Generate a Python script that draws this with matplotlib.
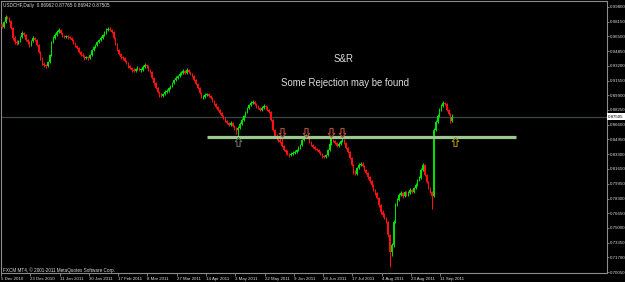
import numpy as np
import matplotlib

matplotlib.use("Agg")
import matplotlib.pyplot as plt
from matplotlib.path import Path
from matplotlib.transforms import blended_transform_factory

# USDCHF daily bars, 5 Dec 2010 .. 14 Sep 2011 (FXCM, Sunday bars included)
first_open = 0.9790
closes = [
    0.9756, 0.9812, 0.9868, 0.9857, 0.9823, 0.9745, 0.9633, 0.9588, 0.9576, 0.9599,
    0.9644, 0.9689, 0.9666, 0.9610, 0.9588, 0.9554, 0.9599, 0.9633, 0.9610, 0.9554,
    0.9475, 0.9408, 0.9341, 0.9330, 0.9318, 0.9363, 0.9442, 0.9588, 0.9633, 0.9666,
    0.9700, 0.9722, 0.9689, 0.9655, 0.9644, 0.9655, 0.9644, 0.9633, 0.9610, 0.9576,
    0.9543, 0.9520, 0.9475, 0.9442, 0.9431, 0.9408, 0.9419, 0.9408, 0.9442, 0.9498,
    0.9532, 0.9554, 0.9588, 0.9610, 0.9633, 0.9666, 0.9689, 0.9722, 0.9734, 0.9722,
    0.9700, 0.9633, 0.9565, 0.9498, 0.9453, 0.9419, 0.9408, 0.9374, 0.9352, 0.9318,
    0.9296, 0.9274, 0.9262, 0.9285, 0.9296, 0.9274, 0.9274, 0.9307, 0.9330, 0.9318,
    0.9274, 0.9251, 0.9184, 0.9127, 0.9072, 0.9027, 0.8993, 0.8982, 0.9004, 0.9027,
    0.9038, 0.9072, 0.9094, 0.9127, 0.9161, 0.9184, 0.9206, 0.9229, 0.9240, 0.9262,
    0.9240, 0.9274, 0.9251, 0.9229, 0.9206, 0.9161, 0.9117, 0.9072, 0.9015, 0.8970,
    0.8970, 0.8993, 0.9004, 0.8982, 0.8959, 0.8925, 0.8892, 0.8858, 0.8825, 0.8791,
    0.8758, 0.8735, 0.8701, 0.8678, 0.8656, 0.8678, 0.8645, 0.8623, 0.8600, 0.8623,
    0.8668, 0.8713, 0.8758, 0.8802, 0.8847, 0.8881, 0.8903, 0.8915, 0.8892, 0.8858,
    0.8847, 0.8825, 0.8847, 0.8870, 0.8858, 0.8825, 0.8802, 0.8713, 0.8600, 0.8533,
    0.8511, 0.8488, 0.8466, 0.8421, 0.8376, 0.8354, 0.8331, 0.8320, 0.8331, 0.8342,
    0.8354, 0.8376, 0.8398, 0.8432, 0.8488, 0.8522, 0.8544, 0.8511, 0.8466, 0.8432,
    0.8410, 0.8387, 0.8376, 0.8354, 0.8331, 0.8309, 0.8297, 0.8320, 0.8376, 0.8443,
    0.8488, 0.8477, 0.8455, 0.8421, 0.8443, 0.8477, 0.8488, 0.8455, 0.8398, 0.8354,
    0.8286, 0.8208, 0.8129, 0.8107, 0.8174, 0.8208, 0.8219, 0.8196, 0.8151, 0.8118,
    0.8073, 0.8028, 0.7983, 0.7927, 0.7894, 0.7837, 0.7759, 0.7680, 0.7647, 0.7613,
    0.7568, 0.7421, 0.7231, 0.7309, 0.7568, 0.7759, 0.7815, 0.7871, 0.7894, 0.7859,
    0.7905, 0.7871, 0.7894, 0.7927, 0.7905, 0.7950, 0.7983, 0.8039, 0.8062, 0.8151,
    0.8208, 0.8095, 0.8017, 0.7950, 0.7905, 0.7859, 0.8600, 0.8690, 0.8758, 0.8825,
    0.8870, 0.8903, 0.8892, 0.8825, 0.8780, 0.86962, 0.87505,
]
highs = [
    0.9800, 0.9825, 0.9885, 0.9880, 0.9870, 0.9835, 0.9760, 0.9650, 0.9605, 0.9615,
    0.9660, 0.9705, 0.9700, 0.9680, 0.9625, 0.9600, 0.9615, 0.9650, 0.9645, 0.9620,
    0.9565, 0.9490, 0.9420, 0.9360, 0.9345, 0.9375, 0.9455, 0.9600, 0.9650, 0.9685,
    0.9720, 0.9745, 0.9735, 0.9700, 0.9670, 0.9670, 0.9665, 0.9660, 0.9645, 0.9620,
    0.9590, 0.9555, 0.9530, 0.9485, 0.9460, 0.9445, 0.9435, 0.9430, 0.9455, 0.9510,
    0.9545, 0.9570, 0.9600, 0.9625, 0.9650, 0.9680, 0.9705, 0.9740, 0.9755, 0.9750,
    0.9735, 0.9710, 0.9645, 0.9580, 0.9510, 0.9465, 0.9435, 0.9420, 0.9390, 0.9365,
    0.9330, 0.9310, 0.9290, 0.9300, 0.9320, 0.9310, 0.9290, 0.9325, 0.9350, 0.9345,
    0.9330, 0.9285, 0.9260, 0.9195, 0.9140, 0.9085, 0.9040, 0.9010, 0.9020, 0.9045,
    0.9055, 0.9085, 0.9110, 0.9140, 0.9175, 0.9200, 0.9220, 0.9245, 0.9260, 0.9280,
    0.9275, 0.9290, 0.9285, 0.9265, 0.9240, 0.9215, 0.9170, 0.9130, 0.9085, 0.9025,
    0.8990, 0.9010, 0.9020, 0.9015, 0.8995, 0.8970, 0.8935, 0.8905, 0.8870, 0.8835,
    0.8800, 0.8770, 0.8745, 0.8715, 0.8690, 0.8695, 0.8690, 0.8655, 0.8635, 0.8640,
    0.8685, 0.8730, 0.8770, 0.8815, 0.8860, 0.8895, 0.8920, 0.8935, 0.8930, 0.8905,
    0.8875, 0.8860, 0.8865, 0.8890, 0.8885, 0.8870, 0.8840, 0.8815, 0.8725, 0.8615,
    0.8550, 0.8530, 0.8535, 0.8530, 0.8435, 0.8390, 0.8370, 0.8345, 0.8350, 0.8360,
    0.8370, 0.8390, 0.8415, 0.8445, 0.8500, 0.8540, 0.8560, 0.8555, 0.8525, 0.8480,
    0.8445, 0.8420, 0.8400, 0.8390, 0.8365, 0.8345, 0.8320, 0.8335, 0.8390, 0.8520,
    0.8505, 0.8500, 0.8490, 0.8470, 0.8460, 0.8490, 0.8530, 0.8500, 0.8465, 0.8410,
    0.8365, 0.8295, 0.8220, 0.8145, 0.8185, 0.8225, 0.8240, 0.8235, 0.8205, 0.8165,
    0.8130, 0.8085, 0.8040, 0.7995, 0.7940, 0.7905, 0.7850, 0.7770, 0.7700, 0.7665,
    0.7625, 0.7580, 0.7435, 0.7330, 0.7590, 0.7780, 0.7835, 0.7890, 0.7915, 0.7905,
    0.7920, 0.7920, 0.7910, 0.7945, 0.7940, 0.7965, 0.8000, 0.8055, 0.8080, 0.8170,
    0.8230, 0.8215, 0.8105, 0.8030, 0.7960, 0.7920, 0.8620, 0.8710, 0.8775, 0.8845,
    0.8890, 0.8925, 0.8915, 0.8905, 0.8840, 0.8790, 0.87765,
]
lows = [
    0.9740, 0.9745, 0.9800, 0.9840, 0.9810, 0.9730, 0.9610, 0.9570, 0.9555, 0.9560,
    0.9590, 0.9630, 0.9650, 0.9595, 0.9570, 0.9535, 0.9545, 0.9590, 0.9595, 0.9540,
    0.9460, 0.9390, 0.9325, 0.9310, 0.9300, 0.9305, 0.9350, 0.9430, 0.9575, 0.9620,
    0.9655, 0.9690, 0.9675, 0.9640, 0.9630, 0.9630, 0.9625, 0.9620, 0.9595, 0.9560,
    0.9530, 0.9505, 0.9460, 0.9425, 0.9415, 0.9390, 0.9395, 0.9385, 0.9400, 0.9430,
    0.9485, 0.9520, 0.9545, 0.9575, 0.9600, 0.9620, 0.9655, 0.9680, 0.9710, 0.9705,
    0.9685, 0.9620, 0.9550, 0.9485, 0.9440, 0.9400, 0.9390, 0.9360, 0.9335, 0.9300,
    0.9280, 0.9255, 0.9245, 0.9250, 0.9270, 0.9260, 0.9255, 0.9265, 0.9295, 0.9300,
    0.9260, 0.9235, 0.9170, 0.9110, 0.9055, 0.9010, 0.8975, 0.8965, 0.8970, 0.8995,
    0.9015, 0.9025, 0.9060, 0.9085, 0.9115, 0.9150, 0.9170, 0.9195, 0.9215, 0.9230,
    0.9225, 0.9230, 0.9235, 0.9215, 0.9190, 0.9145, 0.9100, 0.9055, 0.9000, 0.8955,
    0.8950, 0.8960, 0.8980, 0.8965, 0.8945, 0.8910, 0.8875, 0.8845, 0.8810, 0.8775,
    0.8745, 0.8720, 0.8685, 0.8665, 0.8640, 0.8645, 0.8630, 0.8605, 0.8560, 0.8520,
    0.8610, 0.8655, 0.8700, 0.8745, 0.8790, 0.8835, 0.8870, 0.8890, 0.8875, 0.8845,
    0.8830, 0.8810, 0.8815, 0.8835, 0.8840, 0.8810, 0.8785, 0.8700, 0.8585, 0.8515,
    0.8490, 0.8470, 0.8450, 0.8405, 0.8360, 0.8335, 0.8315, 0.8300, 0.8305, 0.8320,
    0.8330, 0.8340, 0.8365, 0.8385, 0.8420, 0.8475, 0.8505, 0.8495, 0.8450, 0.8415,
    0.8395, 0.8370, 0.8360, 0.8340, 0.8315, 0.8290, 0.8280, 0.8285, 0.8310, 0.8365,
    0.8430, 0.8460, 0.8440, 0.8405, 0.8410, 0.8430, 0.8465, 0.8440, 0.8385, 0.8340,
    0.8270, 0.8190, 0.8110, 0.8090, 0.8095, 0.8160, 0.8195, 0.8180, 0.8135, 0.8100,
    0.8055, 0.8010, 0.7965, 0.7910, 0.7875, 0.7820, 0.7740, 0.7660, 0.7625, 0.7595,
    0.7550, 0.7400, 0.7067, 0.7180, 0.7290, 0.7550, 0.7745, 0.7800, 0.7855, 0.7840,
    0.7845, 0.7855, 0.7860, 0.7880, 0.7890, 0.7895, 0.7940, 0.7970, 0.8025, 0.8050,
    0.8140, 0.8080, 0.8000, 0.7935, 0.7890, 0.7710, 0.7845, 0.8585, 0.8675, 0.8740,
    0.8810, 0.8855, 0.8875, 0.8810, 0.8765, 0.8680, 0.86942,
]

date_labels = [
    "5 Dec 2010", "23 Dec 2010", "11 Jan 2011", "30 Jan 2011", "17 Feb 2011",
    "8 Mar 2011", "27 Mar 2011", "14 Apr 2011", "3 May 2011", "22 May 2011",
    "9 Jun 2011", "28 Jun 2011", "17 Jul 2011", "4 Aug 2011", "23 Aug 2011",
    "11 Sep 2011",
]
bars_per_label = 16
price_ticks = [
    0.99800, 0.98150, 0.96500, 0.94850, 0.93200, 0.91550, 0.89900, 0.88250,
    0.86600, 0.84950, 0.83300, 0.81650, 0.79950, 0.78300, 0.76650, 0.75000,
    0.73350, 0.71700, 0.70050,
]
last_price = 0.87505
sr_level = 0.8516
sr_span = (112, 281)
rejection_bars = [153, 166, 180, 186]
support_bars = [129, 247.5]

BG = "#000000"
UP = "#00e000"
DOWN = "#ff1010"
FRAME = "#8c8c8c"
TEXT = "#dcdcdc"
FONT = "Liberation Sans"

W, H = 625, 282
fig = plt.figure(figsize=(W / 100, H / 100), dpi=100, facecolor=BG)
ax = fig.add_axes([1 / W, 9 / H, 606 / W, 272 / H], facecolor=BG)

c = np.array(closes)
o = np.r_[first_open, c[:-1]]
x = np.arange(len(c))
cols = np.where(c >= o, UP, DOWN)
ax.vlines(x, lows, highs, colors=cols, linewidth=0.72, zorder=3)
ax.bar(x, np.maximum(np.abs(c - o), 0.0006), bottom=np.minimum(o, c),
       width=0.75, color=cols, linewidth=0, zorder=3)

ax.set_xlim(-0.55, 330.6)
ax.set_ylim(0.69944, 1.00473)

# current price line + label box
ax.axhline(last_price, color="#3a4646", linewidth=0.9, zorder=2)
ax.text(1.0017, last_price, f"{last_price:.5f}", color="black", fontsize=3.2,
        family=FONT, va="center", ha="left",
        transform=blended_transform_factory(ax.transAxes, ax.transData),
        bbox=dict(boxstyle="square,pad=0.25", facecolor="white", edgecolor="none"),
        clip_on=False, zorder=6)

# support / resistance line
ax.hlines(sr_level, *sr_span, color="#9cc890", linewidth=2.3, zorder=4)

down_path = Path(
    [(-0.17, 1.0), (0.17, 1.0), (0.17, 0.45), (0.36, 0.45), (0.0, 0.02),
     (-0.36, 0.45), (-0.17, 0.45), (-0.17, 1.0)],
    [Path.MOVETO] + [Path.LINETO] * 6 + [Path.CLOSEPOLY],
)
up_path = Path(down_path.vertices * [1, -1], down_path.codes)
ax.plot(rejection_bars, [sr_level] * len(rejection_bars), linestyle="none",
        marker=down_path, markersize=13, markerfacecolor="none",
        markeredgecolor="#b44a3c", markeredgewidth=0.8, zorder=5)
for xb, col in zip(support_bars, ["#5f6e5f", "#a08a18"]):
    ax.plot([xb], [sr_level], linestyle="none", marker=up_path, markersize=13,
            markerfacecolor="none", markeredgecolor=col, markeredgewidth=0.8,
            zorder=5)

for s in ax.spines.values():
    s.set_color(FRAME)
    s.set_linewidth(0.8)

ax.yaxis.tick_right()
ax.set_yticks(price_ticks)
ax.set_yticklabels([f"{p:.5f}" for p in price_ticks])
ax.tick_params(axis="y", direction="out", length=1.6, width=0.6, color=FRAME,
               labelsize=3.2, labelcolor=TEXT, pad=0.6)
ax.set_xticks(np.arange(len(date_labels)) * bars_per_label - 0.5)
ax.set_xticklabels(date_labels)
ax.tick_params(axis="x", direction="out", length=2.4, width=0.6, color=FRAME,
               labelsize=3.2, labelcolor=TEXT, pad=0.2)
for lbl in ax.get_xticklabels() + ax.get_yticklabels():
    lbl.set_family(FONT)
for lbl in ax.get_xticklabels():
    lbl.set_horizontalalignment("left")

fig.text(3 / W, 1 - 6 / H, "USDCHF,Daily  0.86962 0.87765 0.86942 0.87505",
         color=TEXT, fontsize=3.4, family=FONT, va="center", ha="left")
fig.text(3 / W, 1 - 270 / H, "FXCM MT4, \u00a9 2001-2011 MetaQuotes Software Corp.",
         color=TEXT, fontsize=3.3, family=FONT, va="center", ha="left")
fig.text(344 / W, 1 - 59 / H, "S&R", color=TEXT, fontsize=6.9, family=FONT,
         va="center", ha="center")
fig.text(345 / W, 1 - 83 / H, "Some Rejection may be found", color=TEXT,
         fontsize=6.9, family=FONT, va="center", ha="center")

fig.savefig("out.png", dpi=100, facecolor=BG)
